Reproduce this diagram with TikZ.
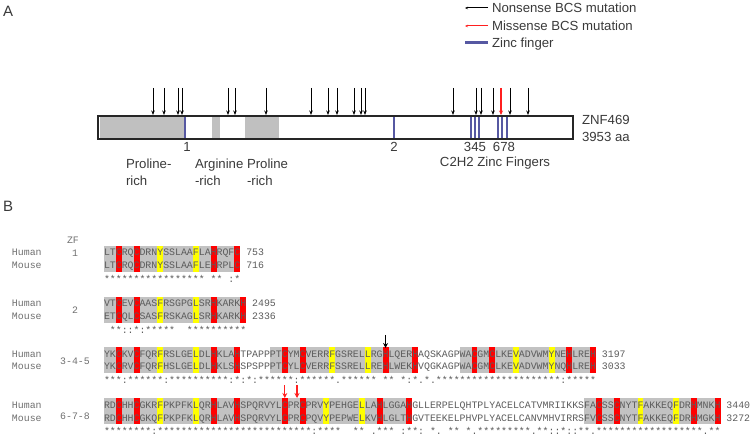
\documentclass[tikz,border=0pt]{standalone}
\usepackage{fontspec}
\setmainfont{Liberation Sans}
\newfontfamily\seqfont{Liberation Mono}
\usepackage{tikz}
\usetikzlibrary{positioning, arrows.meta}

\definecolor{txtgray}{HTML}{3A3A3A}
\definecolor{seqgray}{HTML}{5C5C5C}
\definecolor{lblgray}{HTML}{707070}
\definecolor{domgray}{HTML}{C0C0C0}
\definecolor{boxgray}{HTML}{C2C2C2}
\definecolor{zfblue}{HTML}{5658A2}
\definecolor{mutred}{HTML}{FF1F1F}
\definecolor{hlred}{HTML}{FF0000}
\definecolor{hlyellow}{HTML}{FFFF00}

\newcommand{\seqx}{104}
\newcommand{\chw}{5.928}

\begin{document}
\begin{tikzpicture}[
  x=1pt, y=-1pt,
  every node/.style={inner sep=0pt, outer sep=0pt},
  lbl/.style={font=\fontsize{13.2}{17}\selectfont, text=txtgray, align=left},
  panel/.style={font=\fontsize{15}{18}\selectfont, text=txtgray},
  seq/.style={font=\seqfont\fontsize{9.88}{12}\selectfont, text=seqgray, anchor=base west},
  seqlbl/.style={font=\seqfont\fontsize{9.88}{12}\selectfont, text=lblgray},
  nonsense/.style={-{Stealth[length=4.5pt, width=3.5pt]}, line width=0.8pt, black},
  missense/.style={-{Stealth[length=4.5pt, width=4pt]}, line width=1.6pt, mutred},
  legarrow/.style={-{Stealth[length=3pt, width=2.5pt]}, line width=1pt},
  zfline/.style={line width=2pt, zfblue},
  domfill/.style={fill=domgray},
  zfbox/.style={fill=boxgray},
  protbar/.style={draw=black!85, line width=1.3pt},
  seqarrow/.style={-{Stealth[length=5pt, width=5pt]}, line width=1.3pt}
]
\useasboundingbox (0,0) rectangle (752,435);

% Panel A
\node[panel, anchor=west] (panA) at (3,11) {A};

% Legend
\node[lbl, anchor=base west] (nonsense) at (492,12.7) {Nonsense BCS mutation};
\node[lbl, anchor=base west] (missense) at (492,30.7) {Missense BCS mutation};
\node[lbl, anchor=base west] (zinc) at (492,47.7) {Zinc finger};
\coordinate (nsA) at (488,8);  \coordinate (nsB) at (465,8);
\coordinate (msA) at (488,26); \coordinate (msB) at (465,26);
\coordinate (zfA) at (465,43); \coordinate (zfB) at (488,43);
\draw[legarrow, black] (nsA) -- (nsB);
\draw[legarrow, mutred] (msA) -- (msB);
\draw[zfblue, line width=3pt] (zfA) -- (zfB);

% ZNF469 protein
\node[minimum width=475pt, minimum height=23pt, anchor=north west] (znf) at (98,116) {};
\fill[domfill] (99.5,116) rectangle (184,139);
\fill[domfill] (212,116) rectangle (220,139);
\fill[domfill] (245,116) rectangle (279,139);
\foreach \x in {185,394,471,475,479,498,502,507}
  \draw[zfline] (\x,117) -- (\x,138);
\draw[protbar] (znf.north west) rectangle (znf.south east);
\node[lbl, anchor=west] (znfname) at (582,120) {ZNF469};
\node[lbl, below right=7.6pt and 0pt of znfname.south west] (znflen) {3953 aa};

% Mutations
\foreach \x [count=\i] in {153,164,178,182,228,235,266,311,328,337,354,361,365,453,476,481,493,510,528} {
  \coordinate (nsT\i) at (\x,88);
  \coordinate (nsH\i) at (\x,115);
  \draw[nonsense] (nsT\i) -- (nsH\i);
}
\coordinate (msT) at (501,88);
\coordinate (msH) at (501,115);
\draw[missense] (msT) -- (msH);

% Zinc finger numbers and domains
\node[lbl] (n1) at (187,147) {1};
\node[lbl] (n2) at (394,147) {2};
\node[lbl] (n345) at (475,147) {345};
\node[lbl] (n678) at (504,147) {678};
\node[lbl] (c2h2) at (495,163) {C2H2 Zinc Fingers};
\node[lbl, anchor=north west] (pro1) at (126,158.5) {Proline-\\rich};
\node[lbl, anchor=north west] (arg) at (195,158.5) {Arginine\\-rich};
\node[lbl, anchor=north west] (pro2) at (247,158.5) {Proline\\-rich};

% Panel B
\node[panel, anchor=west] (panB) at (3,206) {B};
\node[seqlbl] (zfhead) at (73,240) {ZF};

% Zinc finger boxes
\fill[zfbox] ({\seqx+0*\chw},246) rectangle +({23*\chw},26);
\fill[zfbox] ({\seqx+0*\chw},297) rectangle +({24*\chw},26);
\fill[zfbox] ({\seqx+0*\chw},347) rectangle +({23*\chw},26);
\fill[zfbox] ({\seqx+28*\chw},347) rectangle +({25*\chw},26);
\fill[zfbox] ({\seqx+60*\chw},347) rectangle +({23*\chw},26);
\fill[zfbox] ({\seqx+0*\chw},398) rectangle +({52*\chw},26);
\fill[zfbox] ({\seqx+81*\chw},398) rectangle +({23*\chw},26);

% Cys/His and conserved residues
\foreach \i in {2,5,18,22} \fill[hlred] ({\seqx+\i*\chw},246) rectangle +(\chw,26);
\foreach \i in {9,15} \fill[hlyellow] ({\seqx+\i*\chw},246) rectangle +(\chw,26);
\foreach \i in {2,5,18,23} \fill[hlred] ({\seqx+\i*\chw},297) rectangle +(\chw,26);
\foreach \i in {9,15} \fill[hlyellow] ({\seqx+\i*\chw},297) rectangle +(\chw,26);
\foreach \i in {2,5,18,22,30,33,47,52,62,65,78,82} \fill[hlred] ({\seqx+\i*\chw},347) rectangle +(\chw,26);
\foreach \i in {9,15,38,44,69,75} \fill[hlyellow] ({\seqx+\i*\chw},347) rectangle +(\chw,26);
\foreach \i in {2,5,18,22,30,33,46,51,83,86,99,103} \fill[hlred] ({\seqx+\i*\chw},398) rectangle +(\chw,26);
\foreach \i in {9,15,37,43,90,96} \fill[hlyellow] ({\seqx+\i*\chw},398) rectangle +(\chw,26);

% Species and finger labels
\node[seqlbl, anchor=base west] (hum1lbl) at (12,256) {Human};
\node[seqlbl, anchor=base west] (mus1lbl) at (12,269) {Mouse};
\node[seqlbl] (zf1) at (75,253) {1};
\node[seqlbl, anchor=base west] (hum2lbl) at (12,307) {Human};
\node[seqlbl, anchor=base west] (mus2lbl) at (12,320) {Mouse};
\node[seqlbl] (zf2) at (75,310) {2};
\node[seqlbl, anchor=base west] (hum3lbl) at (12,357) {Human};
\node[seqlbl, anchor=base west] (mus3lbl) at (12,370) {Mouse};
\node[seqlbl] (zf345) at (75,361) {3-4-5};
\node[seqlbl, anchor=base west] (hum4lbl) at (12,408) {Human};
\node[seqlbl, anchor=base west] (mus4lbl) at (12,421) {Mouse};
\node[seqlbl] (zf678) at (75,416) {6-7-8};

% Alignments
\node[seq] (hum1) at (\seqx,256) {LTCRQCDRNYSSLAAFLAHRQFC 753};
\node[seq] (mus1) at (\seqx,269) {LTCRQCDRNYSSLAAFLEHRPLC 716};
\node[seq] (con1) at (\seqx,282.5) {*****{}*****{}*****{}**~**~:*};

\node[seq] (hum2) at (\seqx,307) {VTCEVCAASFRSGPGLSRHKARKH 2495};
\node[seq] (mus2) at (\seqx,320) {ETCQLCSASFRSKAGLSRHKARKH 2336};
\node[seq] (con2) at (\seqx,333.5) {~**::*:*****~~*****{}*****};

\node[seq] (hum3) at (\seqx,357) {YKCKVCFQRFRSLGELDLHKLAHTPAPPPTCYMCVERRFGSRELLRGHLQERHAQSKAGPWACGMCLKEVADVWMYNEHLREH 3197};
\node[seq] (mus3) at (\seqx,370) {YKCRVCFQRFHSLGELDLHKLSHSPSPPPTCYLCVERRFSSRELLREHLWEKHVQGKAGPWACGMCLKEVADVWMYNQHLREH 3033};
\node[seq] (con3) at (\seqx,383.5) {***:******:*****{}*****:*:*:******:******.******~**~*:*.*.*****{}*****{}*****{}*****{}*:*****};

\node[seq] (hum4) at (\seqx,408) {RDCHHCGKRFPKPFKLQRHLAVHSPQRVYLCPRCPRVYPEHGELLAHLGGAHGLLERPELQHTPLYACELCATVMRIIKKSFACSSCNYTFAKKEQFDRHMNKH 3440};
\node[seq] (mus4) at (\seqx,421) {RDCHHCGKQFPKPFKLQRHLAVHSPQRVYLCPRCPQVYPEPWELKVHLGLTHGVTEEKELPHVPLYACELCANVMHVIRRSFVCSSCNYTFAKKEQFDRHMGKH 3272};
\node[seq] (con4) at (\seqx,434) {********:*****{}*****{}*****{}*****{}*****{}*:****~~**~.***~:**:~*.~**~*.*****{}****.**::*::**.*****{}*****{}*****{}***.**};

% Mutated residues
\coordinate (hisT) at ({\seqx+47.5*\chw},335);
\coordinate (hisH) at ({\seqx+47.5*\chw},348);
\draw[seqarrow, black] (hisT) -- (hisH);
\coordinate (cysAT) at ({\seqx+30.5*\chw},385);
\coordinate (cysAH) at ({\seqx+30.5*\chw},398);
\coordinate (cysBT) at (297,385);
\coordinate (cysBH) at (297,398);
\draw[seqarrow, mutred] (cysAT) -- (cysAH);
\draw[seqarrow, mutred] (cysBT) -- (cysBH);

\end{tikzpicture}
\end{document}
